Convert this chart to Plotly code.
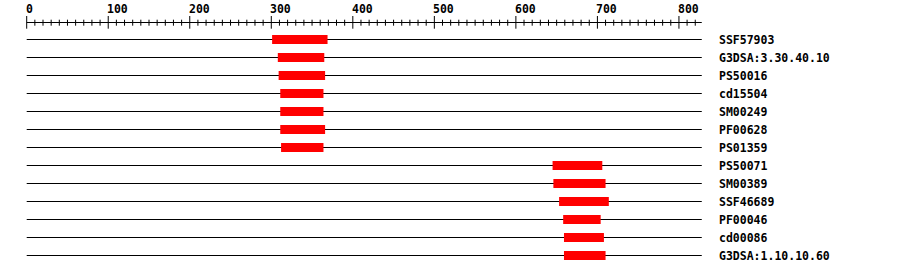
import plotly.graph_objects as go

# ---- data ----
seq_length = 828
labels = ["SSF57903", "G3DSA:3.30.40.10", "PS50016", "cd15504", "SM00249", "PF00628",
          "PS01359", "PS50071", "SM00389", "SSF46689", "PF00046", "cd00086", "G3DSA:1.10.10.60"]
starts = [301, 308, 309, 311, 311, 311, 312, 645, 646, 653, 658, 659, 659]
ends = [369, 365, 366, 364, 364, 366, 364, 706, 710, 714, 704, 708, 710]
major_ticks = list(range(0, 801, 100))
minor_ticks = list(range(0, 821, 10))
tick_labels = [str(v) for v in major_ticks]

# ---- layout mapping ----
PX0 = 26.7      # pixel of position 0
SCALE = 0.8153  # px per residue
ROW0 = 39.5     # pixel y of first row
ROWH = 18.0     # px between rows
H = 274
W = 900

def ypx(p):
    return (p - ROW0) / ROWH

FONT = dict(family="DejaVu Sans Mono", size=11.5, color="black", weight="bold")

fig = go.Figure()
n = len(labels)
rows = list(range(n))

# background lines (thin bars)
fig.add_trace(go.Bar(
    orientation="h", y=rows, x=[seq_length] * n, base=[0] * n,
    width=1.0 / ROWH, marker=dict(color="black", line=dict(width=0)),
    hoverinfo="skip", showlegend=False))
# red domain bars
fig.add_trace(go.Bar(
    orientation="h", y=rows, x=[e - s for s, e in zip(starts, ends)], base=starts,
    width=9 / ROWH, marker=dict(color="#FF0000", line=dict(width=0)),
    hoverinfo="skip", showlegend=False))

# ruler
axis_y = ypx(22.5)
fig.add_trace(go.Scatter(x=[0, seq_length], y=[axis_y, axis_y], mode="lines",
                         line=dict(color="black", width=1), hoverinfo="skip", showlegend=False))
mx, my = [], []
for t in minor_ticks:
    if t in major_ticks:
        continue
    mx += [t, t, None]
    my += [ypx(19.7), ypx(25.7), None]
fig.add_trace(go.Scatter(x=mx, y=my, mode="lines", line=dict(color="black", width=1),
                         hoverinfo="skip", showlegend=False))
Mx, My = [], []
for t in major_ticks:
    Mx += [t, t, None]
    My += [ypx(16), ypx(28.7), None]
fig.add_trace(go.Scatter(x=Mx, y=My, mode="lines", line=dict(color="black", width=1),
                         hoverinfo="skip", showlegend=False))

annotations = []
for t, lab in zip(major_ticks, tick_labels):
    annotations.append(dict(x=t, y=ypx(8.5), text=lab, showarrow=False, xanchor="left",
                            yanchor="middle", xshift=-3, font=FONT))
label_x = (720 - PX0) / SCALE
for i, lab in enumerate(labels):
    annotations.append(dict(x=label_x, y=i, text=lab, showarrow=False, xanchor="left",
                            yanchor="middle", xshift=-3, font=FONT))

fig.update_layout(
    width=W, height=H, margin=dict(l=0, r=0, t=0, b=0),
    paper_bgcolor="white", plot_bgcolor="white",
    barmode="overlay", showlegend=False, annotations=annotations,
    xaxis=dict(range=[-PX0 / SCALE, (W - PX0) / SCALE], visible=False, fixedrange=True),
    yaxis=dict(range=[ypx(H), ypx(0)], visible=False, fixedrange=True),
)
fig.write_html("out.html")
